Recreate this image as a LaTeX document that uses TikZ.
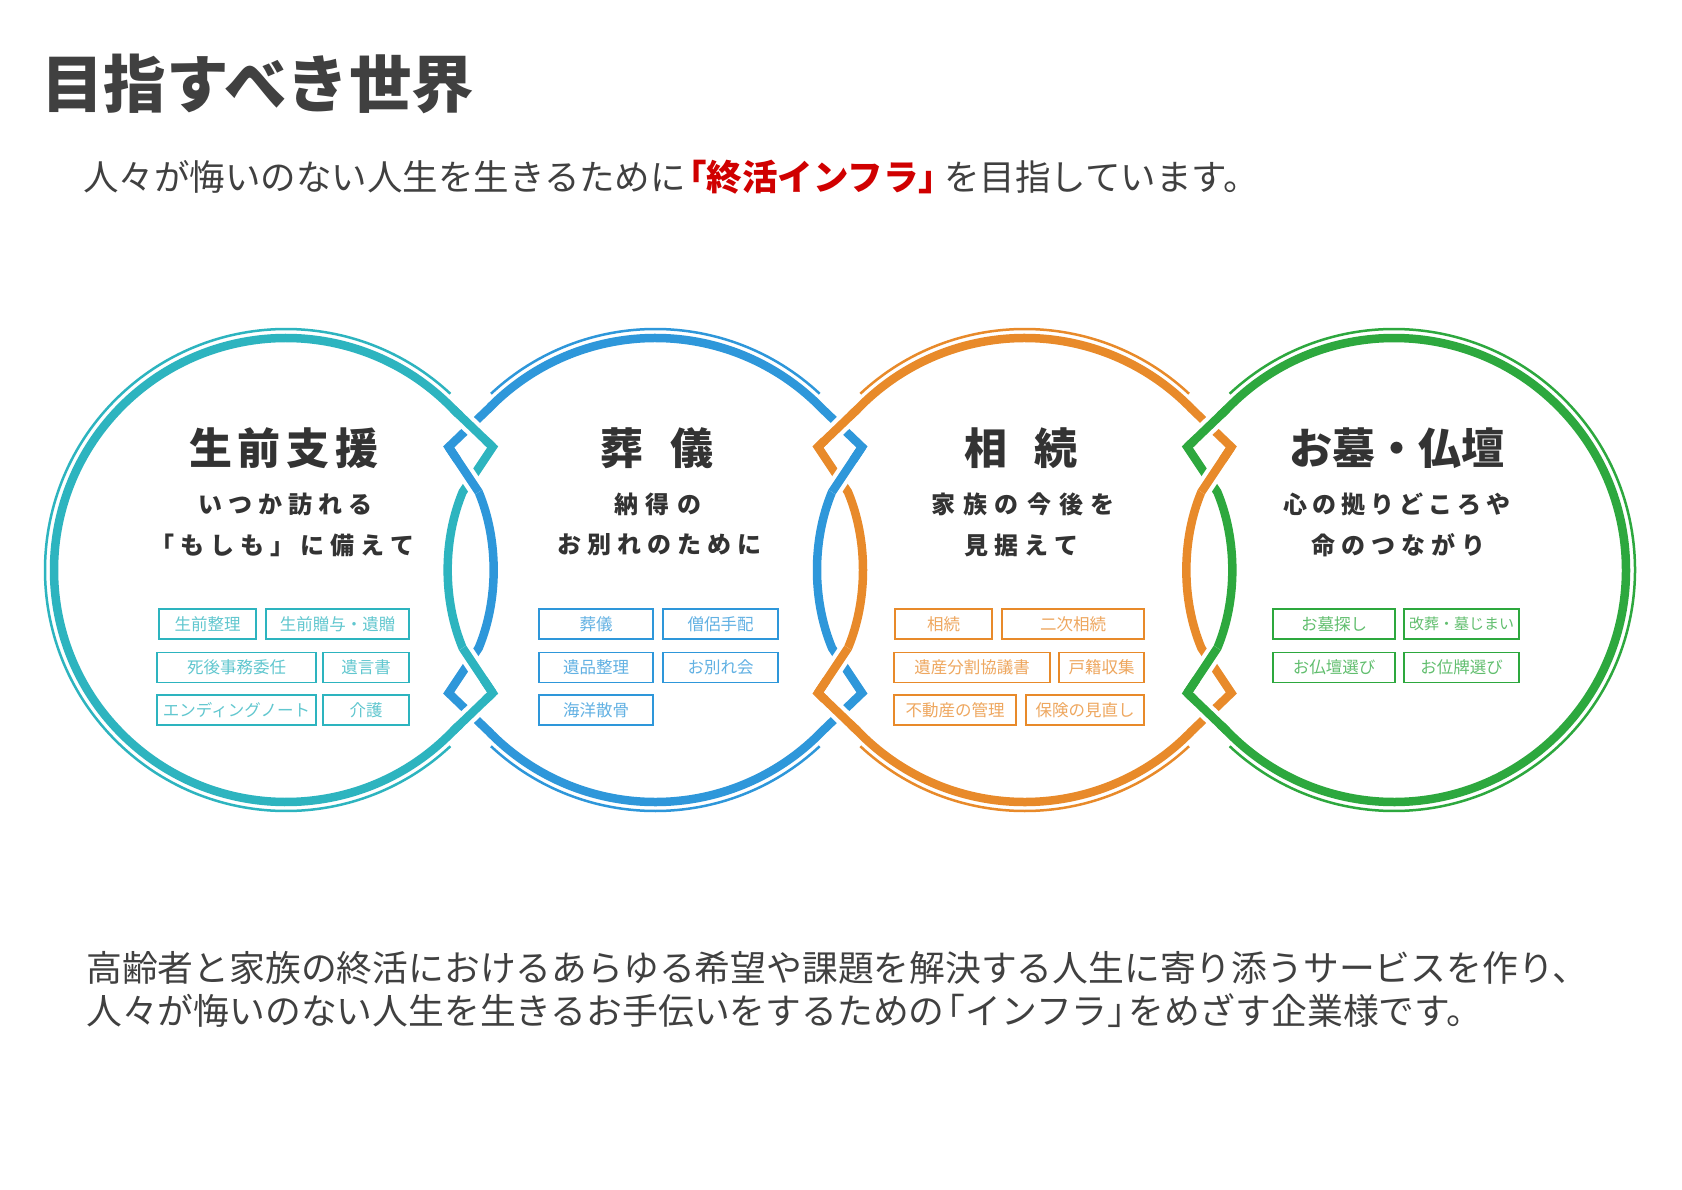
\documentclass[tikz,border=0pt]{standalone}
\usepackage{fontspec}
\setmainfont{Noto Sans CJK JP}
\definecolor{cteal}{HTML}{2DB4BF}
\definecolor{cblue}{HTML}{2E97DA}
\definecolor{corange}{HTML}{E88A2A}
\definecolor{cgreen}{HTML}{2DA83E}
\definecolor{cgray}{HTML}{404040}
\definecolor{cdark}{HTML}{333333}
\definecolor{cred}{HTML}{D00000}
\makeatletter
\def\spc#1#2{\def\spc@k{\kern#1pt}\spc@loop#2\@nil}
\def\spc@loop#1#2\@nil{#1\ifx\relax#2\relax\else\spc@k\spc@loop#2\@nil\fi}
\makeatother
\newcommand\lbr{\kern-0.42em「}
\newcommand\rbr{」\kern-0.42em}
\tikzset{
  ring/.style={line width=8.5pt, line join=miter},
  outerline/.style={line width=2.5pt},
  halo/.style={draw=white, line width=17pt},
  tag/.style={draw=#1, line width=1.5pt, minimum height=30pt, inner sep=0pt,
     text=#1!75, font=\fontsize{16.5}{17}\selectfont},
  ttl/.style={font=\fontsize{43}{48}\selectfont\bfseries, text=cdark, inner sep=0pt},
  subl/.style={font=\fontsize{24}{28}\selectfont\bfseries, text=cdark, inner sep=0pt},
  body/.style={font=\fontsize{35.8}{40}\selectfont, text=cgray, anchor=west, inner sep=0pt},
}
% crossing fix-ups for one lens: #1 midline x, #2 left colour, #3 right colour, #4 mode
\newcommand\lensX[4]{%
 \ifnum#4=1
  \draw[halo,shorten <=10pt,shorten >=10pt] ({#1-17.782},408.838) -- ({#1+22},447);
  \draw[ring,#2] ({#1-17.782},408.838) -- ({#1+22},447);
  \draw[halo,shorten <=16pt] ({#1-22},447) -- ({#1+8},492);
  \draw[ring,#3] ({#1-22},447) -- ({#1+8},492);
  \draw[halo,shorten >=16pt] ({#1-8},648) -- ({#1+22},693);
  \draw[ring,#2] ({#1-8},648) -- ({#1+22},693);
  \draw[halo,shorten <=10pt,shorten >=10pt] ({#1+22},693) -- ({#1-17.782},731.162);
  \draw[ring,#2] ({#1+22},693) -- ({#1-17.782},731.162);
 \else
  \draw[halo,shorten <=10pt,shorten >=10pt] ({#1+17.782},408.838) -- ({#1-22},447);
  \draw[ring,#3] ({#1+17.782},408.838) -- ({#1-22},447);
  \draw[halo,shorten <=16pt] ({#1+22},447) -- ({#1-8},492);
  \draw[ring,#2] ({#1+22},447) -- ({#1-8},492);
  \draw[halo,shorten >=16pt] ({#1+8},648) -- ({#1-22},693);
  \draw[ring,#3] ({#1+8},648) -- ({#1-22},693);
  \draw[halo,shorten <=10pt,shorten >=10pt] ({#1-22},693) -- ({#1+17.782},731.162);
  \draw[ring,#3] ({#1-22},693) -- ({#1+17.782},731.162);
 \fi}
\begin{document}
\begin{tikzpicture}[x=1pt,y=-1pt]
\fill[white] (0,0) rectangle (1682,1190);
\useasboundingbox (0,0) rectangle (1682,1190);

% ---- header ----
\node[font=\fontsize{62.5}{68}\selectfont\bfseries, text=cgray, anchor=west, inner sep=0pt] (title) at (41,84) {目指すべき世界};
\node[font=\fontsize{35.5}{40}\selectfont, text=cgray, anchor=west, inner sep=0pt] (lead) at (83,177)
  {人々が悔いのない人生を生きるために\textcolor{cred}{\bfseries\lbr 終活インフラ\rbr}\kern0.15em を目指しています。};

% ---- rings (thick) ----
\draw[ring,cteal] (452.885,731.162) arc[start angle=44,end angle=316,radius=232]
  -- (492.667,447) -- (462.667,492) .. controls (442.667,540) and (442.667,600) .. (462.667,648)
  -- (492.667,693) -- cycle;
\draw[ring,cblue] (488.448,408.838) arc[start angle=224,end angle=316,radius=232]
  -- (862,447) -- (832,492) .. controls (812,540) and (812,600) .. (832,648)
  -- (862,693) -- (822.218,731.162) arc[start angle=44,end angle=136,radius=232]
  -- (448.667,693) -- (478.667,648) .. controls (498.667,600) and (498.667,540) .. (478.667,492)
  -- (448.667,447) -- cycle;
\draw[ring,corange] (857.782,408.838) arc[start angle=224,end angle=316,radius=232]
  -- (1231.333,447) -- (1201.333,492) .. controls (1181.333,540) and (1181.333,600) .. (1201.333,648)
  -- (1231.333,693) -- (1191.552,731.162) arc[start angle=44,end angle=136,radius=232]
  -- (818,693) -- (848,648) .. controls (868,600) and (868,540) .. (848,492)
  -- (818,447) -- cycle;
\draw[ring,cgreen] (1227.115,408.838) arc[start angle=-136,end angle=136,radius=232]
  -- (1187.333,693) -- (1217.333,648) .. controls (1237.333,600) and (1237.333,540) .. (1217.333,492)
  -- (1187.333,447) -- cycle;

% ---- thin outer arcs ----
\draw[outerline,cteal] (450.36,746.26) arc[start angle=47,end angle=313,radius=241];
\draw[outerline,cblue] (490.97,393.74) arc[start angle=227,end angle=313,radius=241];
\draw[outerline,cblue] (819.69,746.26) arc[start angle=47,end angle=133,radius=241];
\draw[outerline,corange] (860.31,393.74) arc[start angle=227,end angle=313,radius=241];
\draw[outerline,corange] (1189.03,746.26) arc[start angle=47,end angle=133,radius=241];
\draw[outerline,cgreen] (1229.64,393.74) arc[start angle=-133,end angle=133,radius=241];

% ---- interlacing ----
\lensX{470.667}{cteal}{cblue}{1}
\lensX{840}{cblue}{corange}{2}
\lensX{1209.333}{corange}{cgreen}{2}

% ---- circle texts ----
\node[ttl] (t1) at (284,448) {\spc{6}{生前支援}};
\node[subl] (s1a) at (285,504) {\spc{6}{いつか訪れる}};
\node[subl] (s1b) at (282,545) {\spc{6}{「もしも」に備えて}};
\node[ttl] (t2) at (657,448) {\spc{27}{葬儀}};
\node[subl] (s2a) at (658,504) {\spc{8}{納得の}};
\node[subl] (s2b) at (659,545) {\spc{6}{お別れのために}};
\node[ttl] (t3) at (1021,448) {\spc{27}{相続}};
\node[subl] (s3a) at (1023,504) {\spc{8}{家族の今後を}};
\node[subl] (s3b) at (1021,545) {\spc{6}{見据えて}};
\node[ttl] (t4) at (1397,448) {お墓・仏壇};
\node[subl] (s4a) at (1397,504) {\spc{5}{心の拠りどころや}};
\node[subl] (s4b) at (1398,545) {\spc{6}{命のつながり}};

% ---- tags ----
\node[tag=cteal, minimum width=97pt] (g11) at (207.5,624) {生前整理};
\node[tag=cteal, minimum width=143pt] (g12) at (337.5,624) {生前贈与・遺贈};
\node[tag=cteal, minimum width=159pt] (g13) at (236.5,667.5) {死後事務委任};
\node[tag=cteal, minimum width=86pt] (g14) at (366,667.5) {遺言書};
\node[tag=cteal, minimum width=159pt] (g15) at (236.5,710) {エンディングノート};
\node[tag=cteal, minimum width=86pt] (g16) at (366,710) {介護};

\node[tag=cblue, minimum width=114pt] (g21) at (596,624) {葬儀};
\node[tag=cblue, minimum width=115pt] (g22) at (720.5,624) {僧侶手配};
\node[tag=cblue, minimum width=114pt] (g23) at (596,667.5) {遺品整理};
\node[tag=cblue, minimum width=115pt] (g24) at (720.5,667.5) {お別れ会};
\node[tag=cblue, minimum width=114pt] (g25) at (596,710) {海洋散骨};

\node[tag=corange, minimum width=97pt] (g31) at (943.5,624) {相続};
\node[tag=corange, minimum width=142pt] (g32) at (1073,624) {二次相続};
\node[tag=corange, minimum width=156pt] (g33) at (972,667.5) {遺産分割協議書};
\node[tag=corange, minimum width=85pt] (g34) at (1101.5,667.5) {戸籍収集};
\node[tag=corange, minimum width=122pt] (g35) at (955,710) {不動産の管理};
\node[tag=corange, minimum width=118pt] (g36) at (1085,710) {保険の見直し};

\node[tag=cgreen, minimum width=122pt] (g41) at (1334,624) {お墓探し};
\node[tag=cgreen, minimum width=115pt, font=\fontsize{15}{16}\selectfont] (g42) at (1461.5,624) {改葬・墓じまい};
\node[tag=cgreen, minimum width=122pt] (g43) at (1334,667.5) {お仏壇選び};
\node[tag=cgreen, minimum width=115pt] (g44) at (1461.5,667.5) {お位牌選び};

% ---- footer ----
\node[body] (foot1) at (86,968) {高齢者と家族の終活におけるあらゆる希望や課題を解決する人生に寄り添うサービスを作り、};
\node[body] (foot2) at (86,1011) {人々が悔いのない人生を生きるお手伝いをするための\lbr インフラ\rbr をめざす企業様です。};
\end{tikzpicture}
\end{document}
